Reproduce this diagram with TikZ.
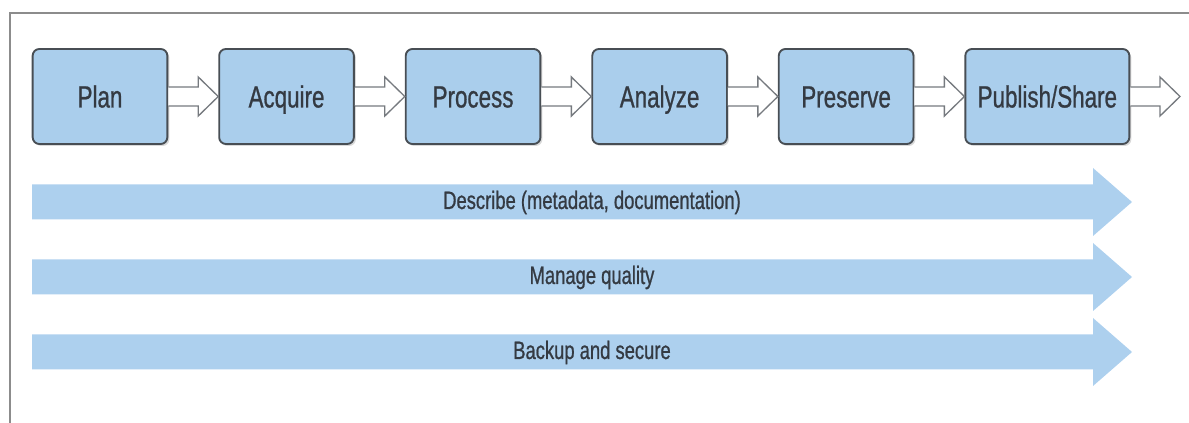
\documentclass[tikz,border=0pt]{standalone}
\usepackage{fontspec}
\setmainfont[FakeStretch=0.73, FakeBold=0.8]{Liberation Sans}
\usetikzlibrary{positioning,calc,shadows}

\definecolor{boxblue}{RGB}{170,206,236}
\definecolor{bandblue}{RGB}{173,208,238}
\definecolor{inkgray}{RGB}{52,58,66}
\definecolor{rimgray}{RGB}{72,78,84}
\definecolor{framegray}{RGB}{140,140,140}

\tikzset{
  stage/.style={draw=rimgray, line width=1.4pt, fill=boxblue, rounded corners=5pt,
    minimum width=101pt, minimum height=71.25pt, text=inkgray,
    font=\fontsize{23}{26}\selectfont, text height=16.5pt, text depth=0pt,
    drop shadow={shadow xshift=1.5pt, shadow yshift=-1.5pt, opacity=0.3}},
  flow/.style={draw=rimgray!75, line width=1pt, fill=white},
  band/.style={fill=bandblue, draw=none},
  bandtext/.style={text=inkgray, font=\fontsize{18.9}{22}\selectfont,
    text height=13.5pt, text depth=0pt},
}

\begin{document}
\begin{tikzpicture}[x=0.75pt, y=-0.75pt]
        \useasboundingbox (0,0) rectangle (1189,423);
        % Cornice
        \draw[framegray, line width=1.5pt] (10,423) -- (10,13) -- (1189,13);

        % Fasi del ciclo
        \node[stage] (plan) at (100,96.5) {Plan};
        \node[stage, right=37.5pt of plan] (acquire) {Acquire};
        \node[stage, right=37.5pt of acquire] (process) {Process};
        \node[stage, right=37.5pt of process] (analyze) {Analyze};
        \node[stage, right=37.5pt of analyze] (preserve) {Preserve};
        \node[stage, right=37.5pt of preserve, minimum width=123pt] (publish) {Publish/Share};
        \coordinate (out) at (1180,96.5);

        % Frecce vuote tra le fasi
        \foreach \a/\b in {plan/acquire.west, acquire/process.west, process/analyze.west,
                           analyze/preserve.west, preserve/publish.west, publish/out}
          \filldraw[flow] ($(\a.east)+(0,-9.5)$) -- ($(\b)+(-20,-9.5)$) -- ($(\b)+(-20,-19.5)$)
            -- (\b) -- ($(\b)+(-20,19.5)$) -- ($(\b)+(-20,9.5)$) -- ($(\a.east)+(0,9.5)$);

        % Bande trasversali
        \foreach \y/\t [count=\i] in {202/{Describe (metadata, documentation)}, 277/{Manage quality}, 352/{Backup and secure}} {
          \fill[band] (32,{\y-17.5}) -- (1093,{\y-17.5}) -- (1093,{\y-34}) -- (1132,\y)
            -- (1093,{\y+34}) -- (1093,{\y+17.5}) -- (32,{\y+17.5}) -- cycle;
          \node[bandtext] (band-\i) at (592,{\y-2}) {\t};
        }
    \end{tikzpicture}
\end{document}
